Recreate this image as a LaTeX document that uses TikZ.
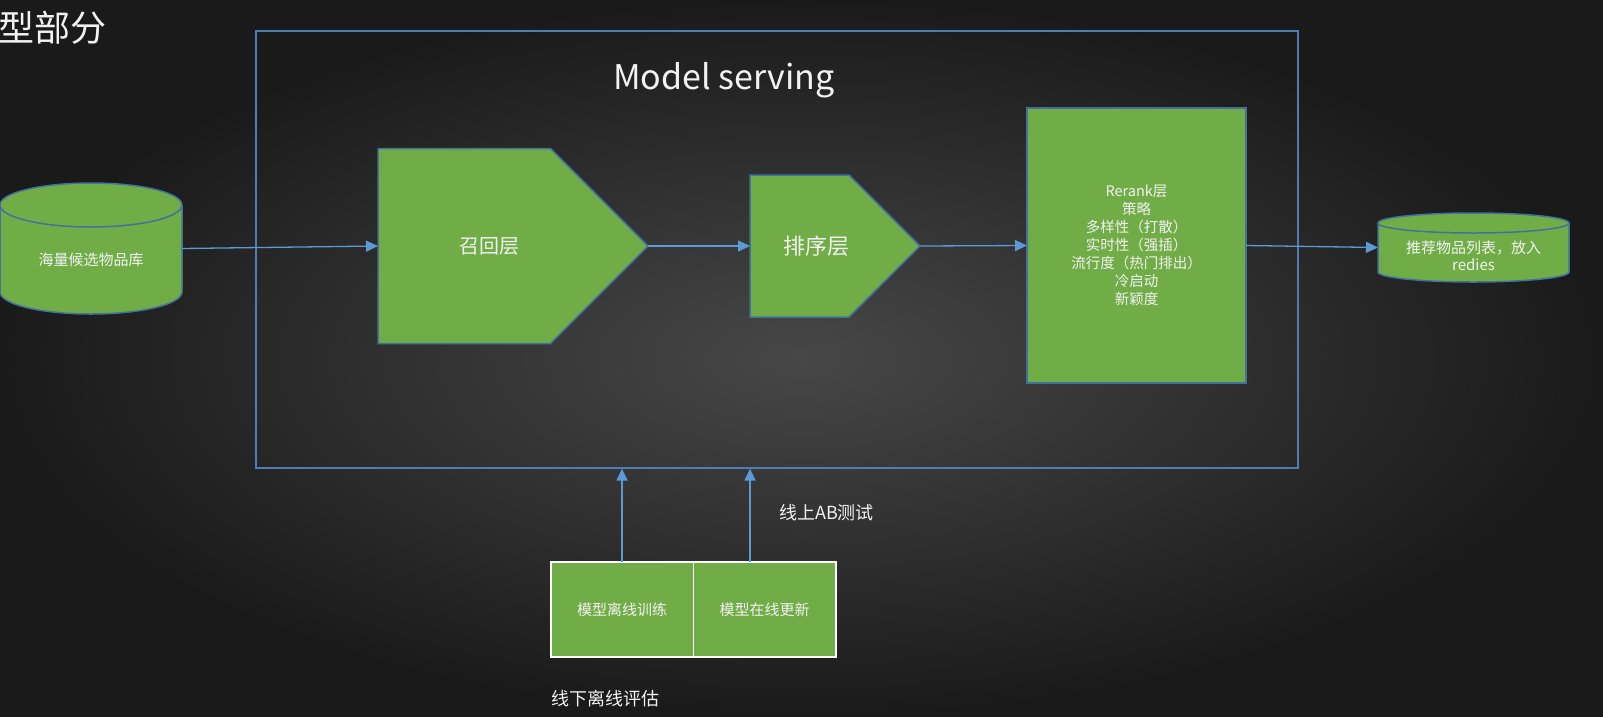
\documentclass[tikz,border=0pt]{standalone}
\usepackage{fontspec}
\setmainfont{Noto Sans CJK SC}
\usetikzlibrary{shapes.symbols,positioning,arrows.meta}

\definecolor{boxgreen}{HTML}{70AD47}
\definecolor{edgeblue}{HTML}{41719C}
\definecolor{flowblue}{HTML}{5B9BD5}
\definecolor{frameblue}{HTML}{4F7DB3}
\definecolor{bgin}{HTML}{474747}
\definecolor{bgout}{HTML}{1A1A1A}
\definecolor{txt}{HTML}{F2F2F2}

\begin{document}
\begin{tikzpicture}[
    x=1pt, y=1pt,
    layer/.style={signal, signal to=east, signal pointer angle=90,
                  fill=boxgreen, draw=edgeblue, line width=1.5pt,
                  text=txt, inner sep=0pt, outer sep=0pt, anchor=west},
    block/.style={rectangle, fill=boxgreen, draw=edgeblue, line width=1.5pt,
                  text=txt, align=center, inner sep=0pt, outer sep=0pt,
                  font=\fontsize{15}{18}\selectfont},
    store/.style={fill=boxgreen, draw=edgeblue, line width=1.5pt},
    note/.style={text=txt, inner sep=0pt, align=center},
    flow/.style={draw=flowblue, line width=1.3pt, -{Triangle[length=12pt, width=11pt]}},
]
% Background
\useasboundingbox (0,0) rectangle (1603,-716);
\shade[inner color=bgin, outer color=bgout] (0,0) rectangle (1603,-716);

% Titles
\node[note, anchor=west, font=\fontsize{36}{40}\selectfont] (pageTitle) at (-2,-28) {型部分};
\node[draw=frameblue, line width=1.2pt, minimum width=1042, minimum height=437,
      inner sep=0pt] (serving) at (777,-249.5) {};
\node[note, font=\fontsize{34}{40}\selectfont] (servingTitle) at (724,-80) {Model serving};

% --- Candidate pool (cylinder) ---
\filldraw[store] (0,-205) -- (0,-292)
    arc[start angle=180, end angle=360, x radius=91, y radius=22] -- (182,-205)
    arc[start angle=0, end angle=180, x radius=91, y radius=22] -- cycle;
\draw[store, fill=none] (0,-205) arc[start angle=180, end angle=360, x radius=91, y radius=22];
\node[inner sep=0pt, outer sep=0pt, minimum width=182, minimum height=131] (pool) at (91,-248.5) {};
\node[note, font=\fontsize{15}{18}\selectfont] (poolText) at (91,-260) {海量候选物品库};

% --- Layers ---
\node[layer, minimum width=270, minimum height=195,
      label={[note, font=\fontsize{20}{24}\selectfont, xshift=25pt]center:召回层}] (recall) at (378,-246) {};
\node[layer, minimum width=170, minimum height=142,
      label={[note, font=\fontsize{22}{24}\selectfont, xshift=16.5pt]center:排序层}] (rank) at (750,-246) {};
\node[block, minimum width=219, minimum height=275, font=\fontsize{14.5}{18}\selectfont] (rerank) at (1136.5,-245.5)
    {Rerank层\\策略\\多样性（打散）\\实时性（强插）\\流行度（热门排出）\\冷启动\\新颖度};

% --- Result list (cylinder) ---
\filldraw[store] (1378,-223) -- (1378,-272)
    arc[start angle=180, end angle=360, x radius=95.5, y radius=10] -- (1569,-223)
    arc[start angle=0, end angle=180, x radius=95.5, y radius=10] -- cycle;
\draw[store, fill=none] (1378,-223) arc[start angle=180, end angle=360, x radius=95.5, y radius=10];
\node[inner sep=0pt, outer sep=0pt, minimum width=191, minimum height=69] (result) at (1473.5,-247.5) {};
\node[note, font=\fontsize{15}{17}\selectfont] (resultText) at (1473.5,-255.5) {推荐物品列表，放入\\redies};

% Flow between stages
\draw[flow] (pool.east) -- (recall.west);
\draw[flow] (recall.east) -- (rank.west);
\draw[flow] (rank.east) -- (rerank.west);
\draw[flow] (rerank.east) -- (result.west);

% --- Model training / updating ---
\node[block, draw=white, minimum width=142.5, minimum height=95] (train) at (622,-609.5) {模型离线训练};
\node[block, draw=white, minimum width=142.5, minimum height=95, right=0pt of train] (update) {模型在线更新};
\coordinate (abIn) at ([xshift=-14.5pt]update.north);
\draw[flow] (train.north) -- (train.north |- serving.south);
\draw[flow] (abIn) -- (abIn |- serving.south);

\node[note, anchor=west, font=\fontsize{18}{20}\selectfont] (abTest) at (779,-513) {线上AB测试};
\node[note, anchor=west, font=\fontsize{18}{20}\selectfont] (offEval) at (551,-699) {线下离线评估};
\end{tikzpicture}
\end{document}
